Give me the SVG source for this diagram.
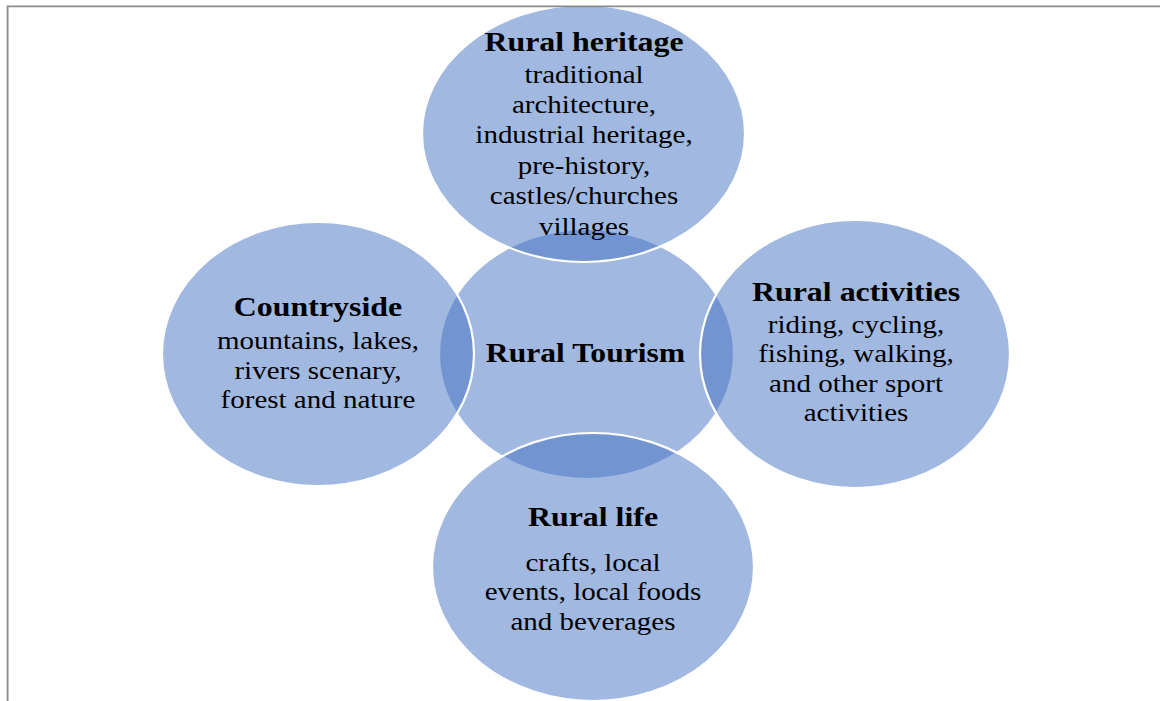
<svg xmlns="http://www.w3.org/2000/svg" width="1160" height="701" viewBox="0 0 1160 701">
  <style>
    .bubble { fill: #4472C4; fill-opacity: 0.5; stroke: #ffffff; stroke-width: 2.2; }
    .hub { fill: #4472C4; fill-opacity: 0.5; stroke: none; }
    text { font-family: "Liberation Serif", "Times New Roman", serif; fill: #000000; text-anchor: middle; }
    .title { font-size: 27.5px; font-weight: bold; }
    .body { font-size: 25px; }
    .frame { fill: none; stroke: #8a8a8a; stroke-width: 1.8; }
  </style>

  <rect width="1160" height="701" fill="#ffffff"/>

  <!-- central hub -->
  <g id="node-rural-tourism">
    <ellipse class="hub" cx="586.5" cy="354" rx="146.5" ry="124"/>
  </g>

  <!-- surrounding themes -->
  <g id="node-rural-heritage">
    <ellipse class="bubble" cx="583.5" cy="133.5" rx="161.5" ry="128.5"/>
  </g>
  <g id="node-countryside">
    <ellipse class="bubble" cx="318" cy="354" rx="156" ry="132"/>
  </g>
  <g id="node-rural-activities">
    <ellipse class="bubble" cx="855" cy="354" rx="155" ry="134"/>
  </g>
  <g id="node-rural-life">
    <ellipse class="bubble" cx="593" cy="567" rx="161" ry="134"/>
  </g>

  <!-- labels -->
  <g id="label-rural-tourism" transform="translate(585.5,0) scale(1.15,1)">
    <text class="title" x="0" y="362">Rural Tourism</text>
  </g>
  <g id="label-rural-heritage" transform="translate(584,0) scale(1.16,1)">
    <text class="title" x="0" y="51.5">Rural heritage</text>
    <text class="body" x="0" y="83">traditional</text>
    <text class="body" x="0" y="113.5">architecture,</text>
    <text class="body" x="0" y="143.5">industrial heritage,</text>
    <text class="body" x="0" y="174">pre-history,</text>
    <text class="body" x="0" y="204.5">castles/churches</text>
    <text class="body" x="0" y="235">villages</text>
  </g>
  <g id="label-countryside" transform="translate(318,0) scale(1.16,1)">
    <text class="title" x="0" y="316">Countryside</text>
    <text class="body" x="0" y="349">mountains, lakes,</text>
    <text class="body" x="0" y="379">rivers scenary,</text>
    <text class="body" x="0" y="408.5">forest and nature</text>
  </g>
  <g id="label-rural-activities" transform="translate(856,0) scale(1.16,1)">
    <text class="title" x="0" y="301.5">Rural activities</text>
    <text class="body" x="0" y="333">riding, cycling,</text>
    <text class="body" x="0" y="362.5">fishing, walking,</text>
    <text class="body" x="0" y="392">and other sport</text>
    <text class="body" x="0" y="421.5">activities</text>
  </g>
  <g id="label-rural-life" transform="translate(593,0) scale(1.16,1)">
    <text class="title" x="0" y="526">Rural life</text>
    <text class="body" x="0" y="571">crafts, local</text>
    <text class="body" x="0" y="600.5">events, local foods</text>
    <text class="body" x="0" y="630">and beverages</text>
  </g>

  <!-- connectors: none drawn, overlap of bubbles shows the links -->
  <g id="connectors"></g>

  <!-- page frame -->
  <path class="frame" d="M7.6,701 V6.3 H1160"/>
</svg>
